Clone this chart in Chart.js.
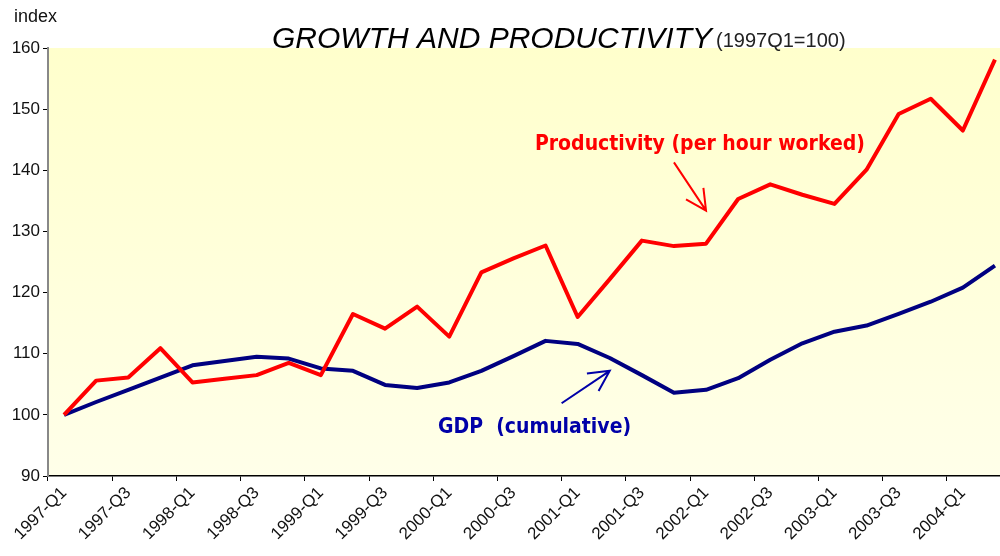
<!DOCTYPE html>
<html>
<head>
<meta charset="utf-8">
<script src="https://cdn.jsdelivr.net/npm/chart.js@4.4.1/dist/chart.umd.min.js"></script>
<style>
  html, body { margin: 0; padding: 0; background: #fff; overflow: hidden; }
  #wrap { width: 1012px; height: 556px; }
</style>
</head>
<body>
<div id="wrap"><canvas id="growthChart" width="1012" height="556"></canvas></div>
<script>
// quarterly index, 1997Q1 = 100
const quarters = [
  '1997-Q1','1997-Q2','1997-Q3','1997-Q4','1998-Q1','1998-Q2','1998-Q3','1998-Q4',
  '1999-Q1','1999-Q2','1999-Q3','1999-Q4','2000-Q1','2000-Q2','2000-Q3','2000-Q4',
  '2001-Q1','2001-Q2','2001-Q3','2001-Q4','2002-Q1','2002-Q2','2002-Q3','2002-Q4',
  '2003-Q1','2003-Q2','2003-Q3','2003-Q4','2004-Q1','2004-Q2'
];
const productivity = [
  100.0, 105.6, 106.1, 110.9, 105.3, 105.9, 106.5, 108.5, 106.5, 116.5,
  114.1, 117.7, 112.8, 123.3, 125.6, 127.7, 116.0, 122.2, 128.5, 127.6,
  128.0, 135.3, 137.7, 136.0, 134.5, 140.1, 149.2, 151.7, 146.5, 158.1
];
const gdp = [
  100.0, 102.1, 104.1, 106.1, 108.1, 108.8, 109.5, 109.2, 107.6, 107.2,
  104.9, 104.4, 105.3, 107.2, 109.6, 112.1, 111.6, 109.3, 106.5, 103.6,
  104.1, 106.0, 109.0, 111.7, 113.6, 114.6, 116.5, 118.5, 120.8, 124.4
];
const yMin = 90, yMax = 160, yStep = 10;

// callouts, placed in data space (category index, index value)
const callouts = [
  { text: 'Productivity (per hour worked)', color: '#FF0000', size: 21,
    at: [14.67, 144.2], from: [19.0, 141.3], to: [20.0, 133.4] },
  { text: 'GDP  (cumulative)', color: '#0000A8', size: 21,
    at: [11.65, 97.9], from: [15.5, 101.9], to: [17.0, 107.2] }
];

const labelFont = "'Liberation Sans', Arial, sans-serif";
const noteFont = "'DejaVu Sans Condensed', 'DejaVu Sans', Verdana, sans-serif";

const plotBackground = {
  id: 'plotBackground',
  beforeDraw(chart) {
    const { ctx, chartArea: a } = chart;
    const g = ctx.createLinearGradient(0, a.top, 0, a.bottom);
    g.addColorStop(0, '#FFFFCC');
    g.addColorStop(1, '#FFFFE9');
    ctx.save();
    ctx.fillStyle = g;
    ctx.fillRect(a.left, a.top, a.right - a.left, a.bottom - a.top);
    ctx.restore();
  }
};

function arrow(ctx, x1, y1, x2, y2, color) {
  const ang = Math.atan2(y1 - y2, x1 - x2);
  const head = 23, spread = 27 * Math.PI / 180;
  ctx.strokeStyle = color;
  ctx.lineWidth = 2;
  ctx.beginPath();
  ctx.moveTo(x1, y1);
  ctx.lineTo(x2, y2);
  ctx.moveTo(x2 + head * Math.cos(ang - spread), y2 + head * Math.sin(ang - spread));
  ctx.lineTo(x2, y2);
  ctx.lineTo(x2 + head * Math.cos(ang + spread), y2 + head * Math.sin(ang + spread));
  ctx.stroke();
}

const overlay = {
  id: 'overlay',
  afterDraw(chart) {
    const { ctx, scales: { x, y } } = chart;
    ctx.save();
    // axis caption
    ctx.fillStyle = '#111';
    ctx.font = '18px ' + labelFont;
    ctx.textBaseline = 'alphabetic';
    ctx.fillText('index', 14, 22);
    // title
    ctx.fillStyle = '#000';
    ctx.font = 'italic 30px ' + labelFont;
    const title = 'GROWTH AND PRODUCTIVITY';
    ctx.fillText(title, 272, 48);
    const tw = ctx.measureText(title).width;
    ctx.font = '20px ' + labelFont;
    ctx.fillStyle = '#222';
    ctx.fillText('(1997Q1=100)', 272 + tw + 4, 47);
    // callouts
    callouts.forEach(c => {
      ctx.fillStyle = c.color;
      ctx.font = 'bold ' + c.size + 'px ' + noteFont;
      ctx.textBaseline = 'middle';
      ctx.fillText(c.text, x.getPixelForValue(c.at[0]), y.getPixelForValue(c.at[1]));
      arrow(ctx,
        x.getPixelForValue(c.from[0]), y.getPixelForValue(c.from[1]),
        x.getPixelForValue(c.to[0]), y.getPixelForValue(c.to[1]), c.color);
    });
    ctx.restore();
  }
};

new Chart(document.getElementById('growthChart').getContext('2d'), {
  type: 'line',
  data: {
    labels: quarters,
    datasets: [
      { label: 'Productivity (per hour worked)', data: productivity, borderColor: '#FF0000',
        borderWidth: 4, pointRadius: 0, tension: 0, borderJoinStyle: 'round' },
      { label: 'GDP (cumulative)', data: gdp, borderColor: '#000080',
        borderWidth: 4, pointRadius: 0, tension: 0, borderJoinStyle: 'round' }
    ]
  },
  options: {
    responsive: false,
    animation: false,
    layout: { padding: { top: 48, right: 1, left: 0, bottom: 0 } },
    plugins: { legend: { display: false }, tooltip: { enabled: false } },
    scales: {
      x: {
        offset: true,
        afterFit(s) { s.height = 80; },
        grid: {
          offset: true, drawOnChartArea: false, tickLength: 5,
          tickColor: ctx => (ctx.index % 2 === 0 ? '#000' : 'rgba(0,0,0,0)')
        },
        border: { color: '#000', width: 1.5 },
        ticks: {
          autoSkip: false, minRotation: 45, maxRotation: 45, padding: 2,
          color: '#111', font: { family: labelFont, size: 17 },
          callback: (v, i) => (i % 2 === 0 ? quarters[i] : '')
        }
      },
      y: {
        min: yMin, max: yMax,
        afterFit(s) { s.width = 48; },
        grid: { drawOnChartArea: false, tickLength: 5, tickColor: '#000' },
        border: { color: '#888', width: 2 },
        ticks: { stepSize: yStep, padding: 3, color: '#111', font: { family: labelFont, size: 17 } }
      }
    }
  },
  plugins: [plotBackground, overlay]
});
</script>
</body>
</html>
